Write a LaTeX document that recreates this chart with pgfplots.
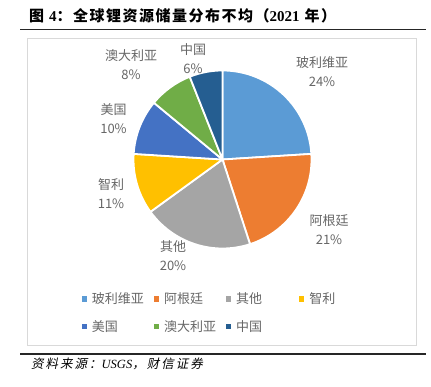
\documentclass[border=0pt]{standalone}
\usepackage{fontspec}
\usepackage{pgfplots}
\usepackage{pgfplotstable}
\pgfplotsset{compat=1.18}
\setmainfont{Noto Sans CJK SC}
\newfontfamily\tnr{Liberation Serif}
\newfontfamily\cjktitle{Noto Sans CJK SC}[LetterSpace=10]
\newfontfamily\cjkit{Noto Sans CJK SC}[FakeSlant=0.2, LetterSpace=16]
\definecolor{cBol}{HTML}{5B9BD5}
\definecolor{cArg}{HTML}{ED7D31}
\definecolor{cOth}{HTML}{A5A5A5}
\definecolor{cChl}{HTML}{FFC000}
\definecolor{cUSA}{HTML}{4472C4}
\definecolor{cAus}{HTML}{70AD47}
\definecolor{cChn}{HTML}{255E91}
\definecolor{lbl}{HTML}{666666}

\pgfplotstableread[col sep=comma]{
name,value,color
玻利维亚,24,cBol
阿根廷,21,cArg
其他,20,cOth
智利,11,cChl
美国,10,cUSA
澳大利亚,8,cAus
中国,6,cChn
}\piedata

\begin{document}
\begin{tikzpicture}
\begin{axis}[
  width=431pt, height=387pt, scale only axis,
  xmin=0, xmax=431, ymin=0, ymax=387,
  hide axis, clip=false,
  legend columns=4,
  legend image code/.code={\fill[#1,draw=none] (0pt,-2.6pt) rectangle (5.2pt,2.6pt);},
  legend style={at={(axis cs:78.4,98.5)}, anchor=north west, draw=none, fill=none,
    font=\fontsize{13pt}{15pt}\selectfont, text=lbl,
    row sep=11pt,
    /tikz/every odd column/.append style={column sep=3pt},
    /tikz/every even column/.append style={column sep=0pt}},
]
\path (axis cs:0,0) rectangle (axis cs:431,387);
% frame
\draw[color=black!15, line width=0.8pt] (axis cs:27,42) rectangle (axis cs:416,349);
% title and rule
\node[anchor=west, inner sep=0pt] at (axis cs:29,371)
  {\fontsize{15pt}{17pt}\selectfont\cjktitle\bfseries 图 {\tnr\bfseries 4}：全球锂资源储量分布不均（{\tnr\bfseries 2021} 年）};
\draw[line width=1.3pt, black!85] (axis cs:20,357.5) -- (axis cs:426,357.5);
\draw[line width=1.3pt, black!85] (axis cs:20,33) -- (axis cs:426,33);
\node[anchor=west, inner sep=0pt] at (axis cs:31,23)
  {\fontsize{12.5pt}{14pt}\selectfont\cjkit 资料来源：{\tnr\itshape USGS}，财信证券};

% pie slices
\xdef\cumangle{90}
\pgfplotsforeachungrouped \i in {0,...,6}{%
  \pgfplotstablegetelem{\i}{value}\of\piedata \let\v\pgfplotsretval
  \pgfplotstablegetelem{\i}{color}\of\piedata \let\c\pgfplotsretval
  \pgfmathsetmacro\endangle{\cumangle - 3.6*\v}%
  \edef\temp{\noexpand\filldraw[fill=\c, draw=white, line width=1.8pt, line join=round]
    (axis cs:222.5,227.5) -- ++(\cumangle:89pt) arc[start angle=\cumangle, end angle=\endangle, radius=89pt] -- cycle;}%
  \temp
  \xdef\cumangle{\endangle}%
}

% data labels
\begin{scope}[every node/.style={text=lbl, align=center, inner sep=0pt, font=\fontsize{13pt}{19pt}\selectfont}]
\node at (axis cs:322,315.5) {玻利维亚\\24\%};
\node at (axis cs:329,157) {阿根廷\\21\%};
\node at (axis cs:173,131) {其他\\20\%};
\node at (axis cs:111,193.5) {智利\\11\%};
\node at (axis cs:113.5,268.5) {美国\\10\%};
\node at (axis cs:131,322.5) {澳大利亚\\8\%};
\node at (axis cs:193,328) {中国\\6\%};
\end{scope}

\addlegendimage{cBol}\addlegendentry{\makebox[60pt][l]{玻利维亚}}
\addlegendimage{cArg}\addlegendentry{\makebox[60pt][l]{阿根廷}}
\addlegendimage{cOth}\addlegendentry{\makebox[61pt][l]{其他}}
\addlegendimage{cChl}\addlegendentry{\makebox[40pt][l]{智利}}
\addlegendimage{cUSA}\addlegendentry{\makebox[60pt][l]{美国}}
\addlegendimage{cAus}\addlegendentry{\makebox[60pt][l]{澳大利亚}}
\addlegendimage{cChn}\addlegendentry{\makebox[61pt][l]{中国}}
\end{axis}
\end{tikzpicture}
\end{document}
